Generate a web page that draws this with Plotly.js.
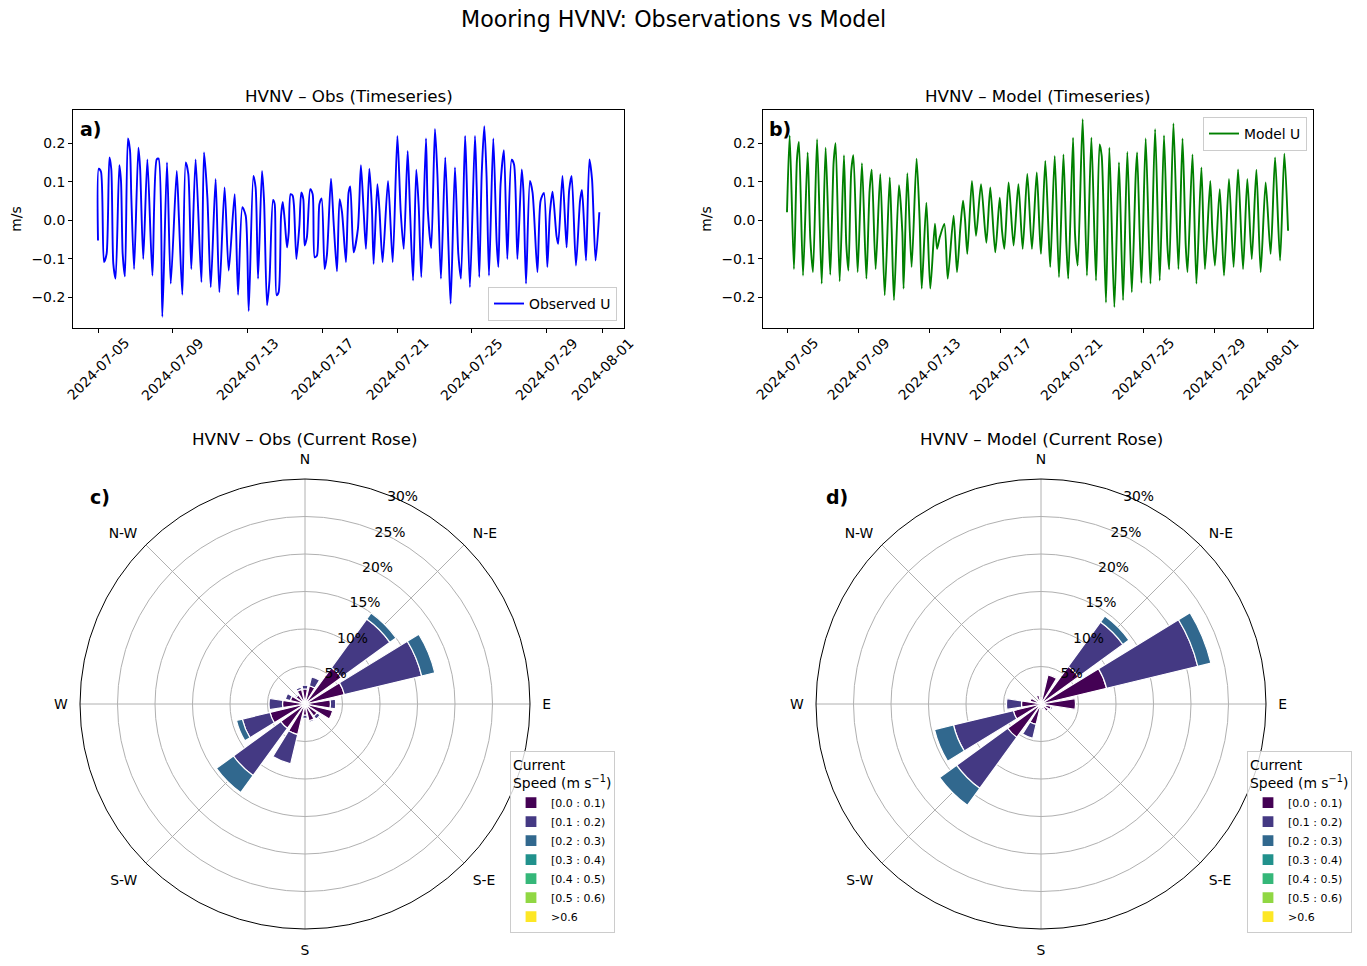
<!DOCTYPE html>
<html>
<head>
<meta charset="utf-8">
<script src="https://cdn.plot.ly/plotly-3.0.1.min.js"></script>
<style>html,body{margin:0;padding:0;background:#fff;}#chart{width:1367px;height:966px;}</style>
</head>
<body>
<div id="chart"></div>
<script>
// ---------- Timeseries data (days after 2024-07-05 00:00, U in m/s) ----------
const obsDay = [0.00,0.04,0.16,0.32,0.46,0.61,0.71,0.82,0.94,1.14,1.23,1.32,1.44,1.60,1.71,1.78,1.93,2.16,2.25,2.42,2.64,2.91,3.14,3.24,3.44,3.69,3.89,4.21,4.33,4.51,4.69,4.83,4.99,5.22,5.53,5.67,5.85,6.03,6.29,6.49,6.77,6.99,7.31,7.49,7.72,7.90,8.06,8.31,8.43,8.56,
8.77,8.88,9.04,9.17,9.36,9.45,9.55,9.66,9.79,9.88,9.98,10.11,10.20,10.30,10.41,10.48,10.61,10.77,10.87,10.98,11.05,11.17,11.35,11.48,11.59,11.71,11.84,11.96,12.12,12.24,12.46,12.60,12.78,12.92,13.05,13.26,13.40,13.49,13.67,13.90,14.06,14.21,14.33,14.51,14.65,14.74,14.94,15.05,15.22,15.51,15.76,16.01,16.19,16.35,16.56,16.69,16.85,17.02,17.15,17.29,17.54,17.64,17.82,
18.02,18.15,18.34,18.57,18.74,18.86,19.09,19.27,19.41,19.63,19.71,19.89,20.16,20.25,20.39,20.52,20.66,20.78,20.91,21.14,21.32,21.41,21.53,21.71,21.89,22.12,22.25,22.43,22.66,22.75,22.89,23.10,23.24,23.50,23.67,23.85,24.03,24.17,24.31,24.52,24.61,24.84,25.06,25.20,25.33,25.56,25.78,25.88,25.99,26.10,26.28,26.42,26.61,26.81];
const obsU = [-0.052,0.134,0.126,-0.108,-0.087,0.163,0.133,-0.113,-0.151,0.143,0.102,-0.087,-0.145,0.212,0.182,0.064,-0.126,0.188,0.137,-0.100,0.158,-0.143,0.158,0.160,-0.250,0.150,-0.164,0.128,0.003,-0.193,0.150,0.120,-0.126,0.158,-0.160,0.176,0.059,-0.173,0.107,-0.186,0.085,-0.130,0.068,-0.193,0.034,0.012,-0.235,0.115,0.085,-0.151,
0.128,0.051,-0.220,-0.156,0.053,0.042,-0.194,-0.186,0.012,0.048,0.003,-0.070,-0.031,0.068,0.064,0.038,-0.100,-0.014,0.072,0.055,-0.065,-0.044,0.081,0.068,-0.096,-0.091,0.042,0.057,-0.126,-0.091,0.108,-0.005,-0.132,0.055,0.021,-0.108,0.072,0.088,-0.083,-0.022,0.143,0.021,-0.074,0.134,0.029,-0.113,0.094,0.029,-0.108,0.102,-0.108,0.219,0.021,-0.074,0.180,0.021,-0.156,0.131,0.038,-0.147,0.212,0.025,-0.072,
0.237,0.120,-0.151,0.163,-0.065,-0.216,0.137,-0.087,-0.151,0.219,0.115,-0.173,0.219,0.089,-0.147,0.120,0.244,0.115,-0.143,0.212,-0.057,-0.121,0.094,0.182,-0.100,0.157,0.145,-0.100,0.132,0.077,-0.164,0.102,0.072,-0.134,0.051,0.071,-0.121,0.021,0.074,-0.040,-0.061,0.115,-0.070,0.079,0.115,-0.117,0.051,0.079,-0.005,-0.104,0.158,0.107,-0.104,0.021];

const modelDay = [0.00,0.15,0.39,0.56,0.67,0.90,1.16,1.31,1.46,1.69,1.95,2.17,2.43,2.62,2.73,2.96,3.20,3.33,3.45,3.61,3.73,3.97,4.21,4.46,4.64,4.76,4.98,5.24,5.49,5.77,5.88,6.01,6.29,6.48,6.55,6.76,7.00,7.28,7.45,7.57,7.83,8.05,8.31,8.43,8.58,8.84,9.03,
9.36,9.55,9.74,9.89,10.00,10.13,10.39,10.62,10.90,11.20,11.42,11.70,11.95,12.08,12.21,12.45,12.73,13.00,13.24,13.50,13.76,14.03,14.18,14.27,14.51,14.68,14.79,15.04,15.28,15.53,15.69,15.80,16.07,16.18,16.33,16.61,16.85,17.10,17.36,17.56,17.68,17.92,18.11,18.39,
18.65,18.88,19.12,19.37,19.59,19.67,19.91,20.15,20.42,20.68,20.94,21.18,21.37,21.47,21.71,21.99,22.22,22.40,22.50,22.78,23.00,23.28,23.48,23.78,23.89,24.04,24.31,24.55,24.83,25.09,25.34,25.62,25.86,26.11,26.37,26.61,26.89,27.17,27.42,27.70,27.94,28.15];
const modelU = [0.021,0.220,-0.126,0.158,0.203,-0.143,0.176,-0.048,-0.134,0.210,-0.164,0.188,-0.141,0.151,0.200,-0.158,0.169,-0.061,-0.130,0.128,0.169,-0.134,0.148,-0.151,0.077,0.131,-0.126,0.120,-0.194,0.111,-0.022,-0.207,0.091,-0.031,-0.177,0.122,-0.121,0.160,0.003,-0.177,0.046,-0.177,-0.009,-0.074,-0.044,-0.009,-0.151,
0.012,-0.134,-0.018,0.051,0.003,-0.087,0.102,-0.040,0.094,-0.058,0.085,-0.083,0.059,-0.027,-0.074,0.098,-0.065,0.094,-0.074,0.120,-0.074,0.124,-0.018,-0.087,0.154,-0.014,-0.121,0.167,-0.147,0.171,-0.057,-0.151,0.214,-0.035,-0.117,0.262,-0.143,0.214,-0.156,0.197,0.167,-0.213,0.188,-0.225,
0.150,-0.207,0.177,-0.186,0.117,0.176,-0.162,0.212,-0.164,0.236,-0.156,0.220,-0.065,-0.127,0.251,-0.126,0.212,-0.065,-0.134,0.171,-0.164,0.137,-0.126,0.102,-0.022,-0.117,0.081,-0.143,0.107,-0.121,0.132,-0.126,0.107,-0.100,0.131,-0.134,0.098,-0.087,0.163,-0.104,0.173,-0.027];

const dateTicks = ['2024-07-05','2024-07-09','2024-07-13','2024-07-17','2024-07-21','2024-07-25','2024-07-29','2024-08-01'];
const yTicks = [-0.2,-0.1,0.0,0.1,0.2];

// ---------- Current rose data (% of time per direction and speed bin) ----------
const dirLabels = ['N','N-E','E','S-E','S','S-W','W','N-W'];
const dirAngles = [0,45,90,135,180,225,270,315];
const sectors = [0,22.5,45,67.5,90,112.5,135,157.5,180,202.5,225,247.5,270,292.5,315,337.5];
const speedBins = ['[0.0 : 0.1)','[0.1 : 0.2)','[0.2 : 0.3)','[0.3 : 0.4)','[0.4 : 0.5)','[0.5 : 0.6)','>0.6'];
const binColors = ['#440154','#443983','#31688e','#21918c','#35b779','#90d743','#fde725'];
const radialTicks = [5,10,15,20,25,30];

const obsBin0 = [2.0,2.5,6.0,5.4,3.4,3.8,2.0,2.3,1.5,4.2,4.0,4.8,3.0,2.0,1.5,2.0];
const obsBin1 = [0.5,1.2,8.0,10.6,0.7,0.0,0.5,0.2,0.4,4.0,7.8,3.8,1.8,0.7,0.2,0.3];
const obsBin2 = [0,0,1.0,1.8,0,0,0,0,0,0,2.8,0.8,0,0,0,0];
const obsBin3 = [0,0,0,0,0,0,0,0,0,0,0,0,0,0,0,0];
const obsBin4 = [0,0,0,0,0,0,0,0,0,0,0,0,0,0,0,0];
const obsBin5 = [0,0,0,0,0,0,0,0,0,0,0,0,0,0,0,0];
const obsBin6 = [0,0,0,0,0,0,0,0,0,0,0,0,0,0,0,0];

const modBin0 = [0.8,4.0,6.2,9.0,4.6,1.4,1.2,0.8,0.5,2.8,5.5,3.8,2.6,1.5,0.5,1.2];
const modBin1 = [0,0,7.3,12.5,0,0.2,0,0,0,1.9,8.4,8.2,2.0,0,0,0];
const modBin2 = [0,0,1.0,1.8,0,0,0,0,0,0,2.8,2.6,0,0,0,0];
const modBin3 = [0,0,0,0,0,0,0,0,0,0,0,0,0,0,0,0];
const modBin4 = [0,0,0,0,0,0,0,0,0,0,0,0,0,0,0,0];
const modBin5 = [0,0,0,0,0,0,0,0,0,0,0,0,0,0,0,0];
const modBin6 = [0,0,0,0,0,0,0,0,0,0,0,0,0,0,0,0];

// ---------- build ----------
const W = 1367, H = 966;
const px = v => v / W;
const py = v => (H - v) / H;
const base = Date.UTC(2024, 6, 5);
const toMs = d => base + d * 86400000;
const FONT = 'DejaVu Sans, Arial, sans-serif';

const traces = [];
traces.push({type:'scatter', mode:'lines', x: obsDay.map(toMs), y: obsU, xaxis:'x', yaxis:'y',
  name:'Observed U', line:{color:'#0000ff', width:1.9, shape:'spline', smoothing:0.7}, legend:'legend'});
traces.push({type:'scatter', mode:'lines', x: modelDay.map(toMs), y: modelU, xaxis:'x2', yaxis:'y2',
  name:'Model U', line:{color:'#008000', width:1.9, shape:'spline', smoothing:0.7}, legend:'legend2'});

const obsBins = [obsBin0,obsBin1,obsBin2,obsBin3,obsBin4,obsBin5,obsBin6];
const modBins = [modBin0,modBin1,modBin2,modBin3,modBin4,modBin5,modBin6];
obsBins.forEach((r,i)=>traces.push({type:'barpolar', subplot:'polar', r:r, theta:sectors, width:18,
  name:speedBins[i], legend:'legend3', marker:{color:binColors[i], line:{color:'#ffffff', width:1.2}}}));
modBins.forEach((r,i)=>traces.push({type:'barpolar', subplot:'polar2', r:r, theta:sectors, width:18,
  name:speedBins[i], legend:'legend4', marker:{color:binColors[i], line:{color:'#ffffff', width:1.2}}}));

const tsX = (dom, range) => ({domain:dom, type:'date', range:range, tickmode:'array', tickvals:dateTicks,
  showticklabels:false, ticks:'outside', ticklen:4, tickcolor:'#000', showline:true, mirror:true,
  linecolor:'#000', linewidth:1, showgrid:false, zeroline:false});
const tsY = (dom, anchor) => ({domain:dom, anchor:anchor, range:[-0.279,0.286], tickmode:'array', tickvals:yTicks,
  tickformat:'.1f', ticks:'outside', ticklen:4, tickcolor:'#000', showline:true, mirror:true, linecolor:'#000',
  linewidth:1, showgrid:false, zeroline:false, tickfont:{size:13.9, family:FONT, color:'#000'},
  title:{text:'m/s', font:{size:13.9, family:FONT, color:'#000'}, standoff:6}});

const polarLayout = (xd) => ({
  domain:{x:xd, y:[py(929), py(479)]},
  bgcolor:'#fff',
  barmode:'stack',
  angularaxis:{rotation:90, direction:'clockwise', tickmode:'array', tickvals:dirAngles, ticktext:dirLabels,
    showline:true, linecolor:'#000', linewidth:1, gridcolor:'#b0b0b0', gridwidth:1,
    ticks:'outside', ticklen:9, tickcolor:'rgba(0,0,0,0)',
    tickfont:{size:13.9, family:FONT, color:'#000'}},
  radialaxis:{range:[0,30], tickmode:'array', tickvals:radialTicks, ticktext:radialTicks.map(v=>v+'%'),
    angle:70.5, tickangle:70.5, showline:false, gridcolor:'#b0b0b0', gridwidth:1, ticks:'', layer:'above traces',
    tickfont:{size:13.9, family:FONT, color:'#000'}}
});

const ann = [];
const addText = (text, x, y, size, opts={}) => ann.push(Object.assign({text:text, x:x, y:y, xref:'paper', yref:'paper',
  showarrow:false, font:{size:size, family:FONT, color:'#000'}, xanchor:'center', yanchor:'middle'}, opts));
addText('Mooring HVNV: Observations vs Model', px(673), py(19), 22.2);
addText('HVNV – Obs (Timeseries)', px(348.5), py(96), 16.7);
addText('HVNV – Model (Timeseries)', px(1038), py(96), 16.7);
addText('HVNV – Obs (Current Rose)', px(305), py(439), 16.7);
addText('HVNV – Model (Current Rose)', px(1041), py(439), 16.7);
addText('<b>a)</b>', px(78), py(129), 19, {xanchor:'left'});
addText('<b>b)</b>', px(767), py(129), 19, {xanchor:'left'});
addText('<b>c)</b>', px(88), py(497), 19, {xanchor:'left'});
addText('<b>d)</b>', px(824), py(497), 19, {xanchor:'left'});
dateTicks.forEach(d=>{
  ann.push({text:d, x:d, xref:'x', y:py(369), yref:'paper', textangle:-45, showarrow:false,
    xanchor:'center', yanchor:'middle', font:{size:13.9, family:FONT, color:'#000'}});
  ann.push({text:d, x:d, xref:'x2', y:py(369), yref:'paper', textangle:-45, showarrow:false,
    xanchor:'center', yanchor:'middle', font:{size:13.9, family:FONT, color:'#000'}});
});

const legBase = {bgcolor:'rgba(255,255,255,0.8)', bordercolor:'#cccccc', borderwidth:1,
  font:{size:13.9, family:FONT, color:'#000'}};
const roseLeg = (x) => Object.assign({}, legBase, {x:x, y:py(751), xanchor:'left', yanchor:'top',
  font:{size:11, family:FONT, color:'#000'}, tracegroupgap:0, itemwidth:30,
  title:{text:'Current<br>Speed (m s<sup>−1</sup>)', font:{size:13.9, family:FONT, color:'#000'}}});

const layout = {
  width:W, height:H, margin:{l:0,r:0,t:0,b:0}, paper_bgcolor:'#fff', plot_bgcolor:'#fff',
  font:{family:FONT, color:'#000'},
  xaxis: Object.assign(tsX([px(73), px(624)], [toMs(-1.337), toMs(28.13)]), {anchor:'y'}),
  yaxis: tsY([py(328), py(110)], 'x'),
  xaxis2: Object.assign(tsX([px(763), px(1313)], [toMs(-1.348), toMs(29.55)]), {anchor:'y2'}),
  yaxis2: tsY([py(328), py(110)], 'x2'),
  polar: polarLayout([px(80), px(530)]),
  polar2: polarLayout([px(816), px(1266)]),
  legend: Object.assign({}, legBase, {x:px(617), y:py(321), xanchor:'right', yanchor:'bottom'}),
  legend2: Object.assign({}, legBase, {x:px(1307), y:py(117), xanchor:'right', yanchor:'top'}),
  legend3: roseLeg(px(510)),
  legend4: roseLeg(px(1247)),
  annotations: ann,
  showlegend:true
};

Plotly.newPlot('chart', traces, layout, {displayModeBar:false, staticPlot:true});
</script>
</body>
</html>
